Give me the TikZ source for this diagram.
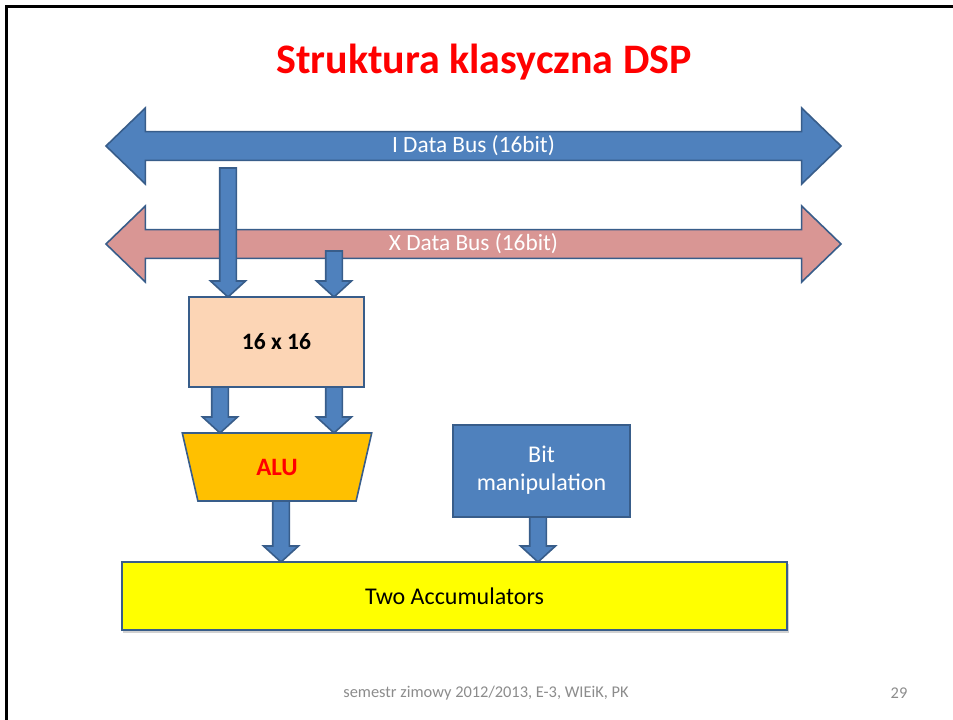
\documentclass[tikz,border=0pt]{standalone}
\usepackage{fontspec}
\setmainfont{Carlito}
\usetikzlibrary{shapes.arrows,shapes.geometric,calc}

\definecolor{busblue}{HTML}{4F81BD}
\definecolor{edgeblue}{HTML}{385D8A}
\definecolor{buspink}{HTML}{D99694}
\definecolor{mulfill}{HTML}{FCD5B5}
\definecolor{alufill}{HTML}{FFC000}
\definecolor{accfill}{HTML}{FFFF00}
\definecolor{titlered}{HTML}{FF0000}
\definecolor{footgray}{HTML}{8C8C8C}

\tikzset{
  bus/.style={double arrow, draw=edgeblue, line width=1.6pt,
    minimum height=735pt, minimum width=76pt, double arrow head extend=18pt,
    double arrow tip angle=88, inner sep=0pt, outer sep=0pt,
    text=white, font=\fontsize{23.3}{26}\selectfont},
  unitbox/.style={draw=edgeblue, line width=1.6pt, inner sep=0pt, outer sep=0pt},
  blkarrow/.style={fill=busblue, draw=edgeblue, line width=1.6pt, line join=miter},
}

% vertical block arrow: shaft starts at the height of #1, tip lands on #2
\newcommand\blkarrow[2]{%
  \draw[blkarrow] let \p1=(#1), \p2=(#2) in
    (\x2-8.3pt,\y1) -- (\x2+8.3pt,\y1) -- (\x2+8.3pt,\y2+16pt) --
    (\x2+17.5pt,\y2+16pt) -- (\x2,\y2) -- (\x2-17.5pt,\y2+16pt) --
    (\x2-8.3pt,\y2+16pt) -- cycle;}

\begin{document}
\begin{tikzpicture}[x=1pt,y=-1pt]
\useasboundingbox (0,0) rectangle (953,720);
\fill[white] (0,0) rectangle (953,720);

% slide frame (left and top edges)
\draw[line width=3pt] (6.5,720) -- (6.5,6.5) -- (953,6.5);

% title
\node[text=titlered, font=\bfseries\fontsize{42}{48}\selectfont] (title) at (484,62) {Struktura klasyczna DSP};

% data buses
\node[bus, fill=busblue] (ibus) at (473.5,146) {\raisebox{-2pt}{I Data Bus (16bit)}};
\node[bus, fill=buspink] (xbus) at (473.5,244) {\raisebox{-2pt}{X Data Bus (16bit)}};

% multiplier
\node[unitbox, fill=mulfill, minimum width=175pt, minimum height=90pt,
  font=\bfseries\fontsize{23.5}{26}\selectfont] (mul) at (276.5,342) {\raisebox{-2pt}{16 x 16}};

% ALU
\node[unitbox, fill=alufill, trapezium, shape border rotate=180,
  trapezium left angle=76, trapezium right angle=76,
  minimum width=190pt, minimum height=68pt, trapezium stretches=true,
  text=titlered, font=\bfseries\fontsize{25}{28}\selectfont] (alu) at (277,467) {\raisebox{-3pt}{ALU}};

% bit manipulation unit
\node[unitbox, fill=busblue, minimum width=177pt, minimum height=92pt,
  text=white, font=\fontsize{24}{29}\selectfont] (bit) at (541.5,471)
  {\raisebox{-3pt}{\begin{tabular}{@{}c@{}}Bit\\[-1pt]manipulation\end{tabular}}};

% accumulators (with a faint shadow)
\fill[black!18] (123,564) rectangle (789,633);
\node[unitbox, fill=accfill, minimum width=665pt, minimum height=68pt,
  font=\fontsize{24}{27}\selectfont] (acc) at (454.5,596) {Two Accumulators};

% bus taps and data paths
\coordinate (itap) at (228,168);
\coordinate (xtap) at (334,251);
\blkarrow{itap}{$(mul.north west)+(39,0)$}
\blkarrow{xtap}{$(mul.north east)+(-30,0)$}
\blkarrow{mul.south}{$(alu.north)+(-57,0)$}
\blkarrow{mul.south}{$(alu.north)+(57,0)$}
\blkarrow{alu.south}{$(acc.north west)+(159,0)$}
\blkarrow{bit.south}{$(acc.north west)+(416,0)$}

% footer
\node[text=footgray, font=\fontsize{16.4}{19}\selectfont] (foot) at (486,693) {semestr zimowy 2012/2013, E-3, WIEiK, PK};
\node[text=footgray, font=\fontsize{16.4}{19}\selectfont] (page) at (899,693) {29};
\end{tikzpicture}
\end{document}
